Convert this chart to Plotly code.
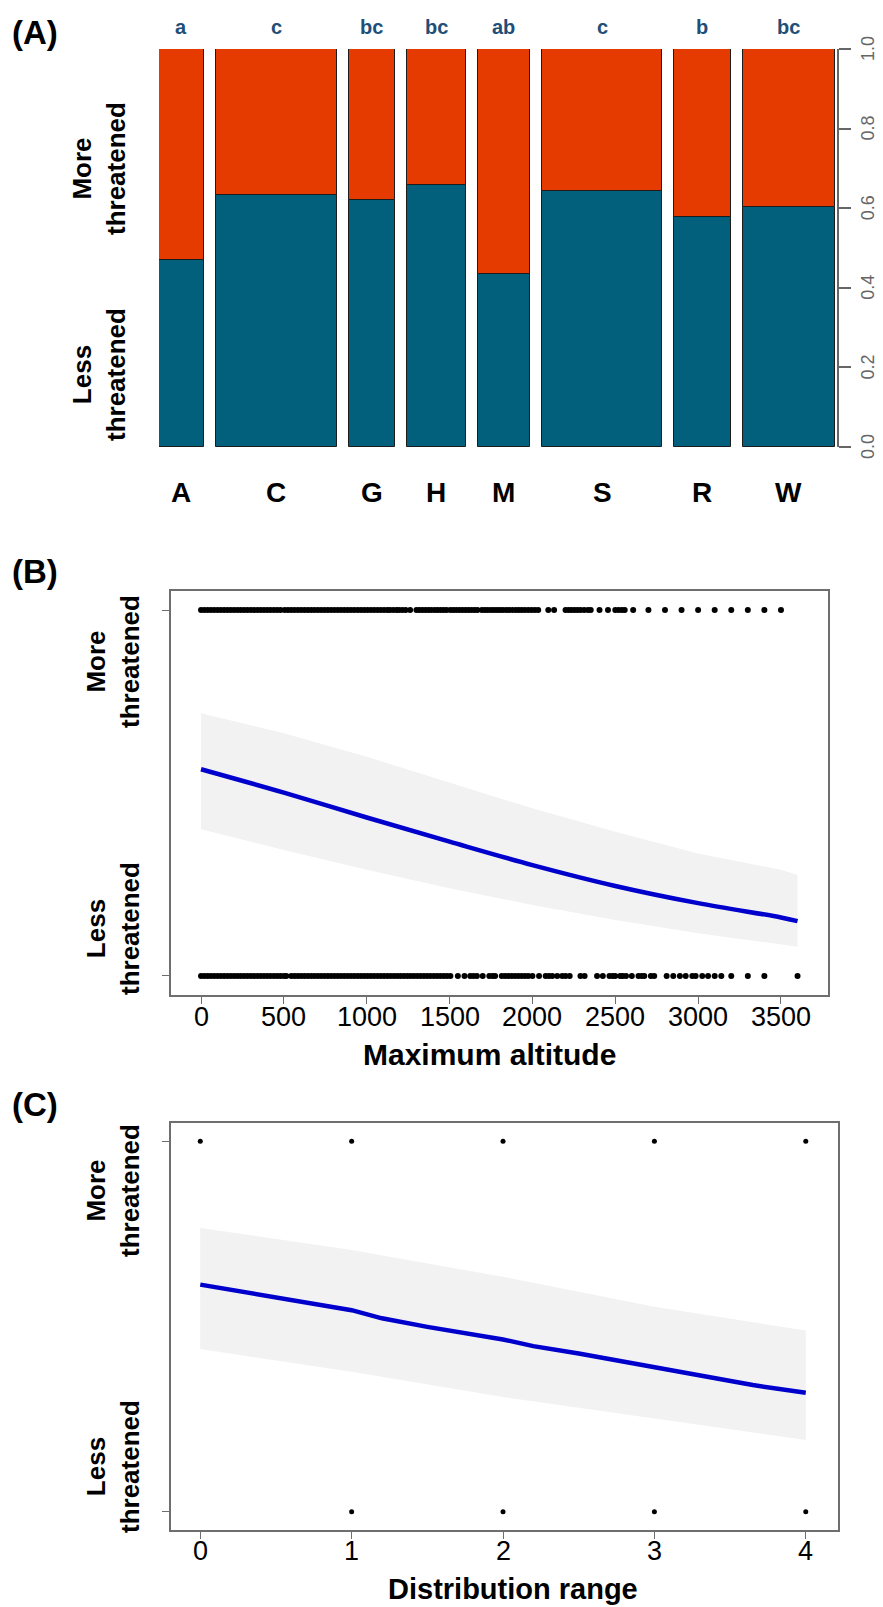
import plotly.graph_objects as go

W, H = 883, 1607

# ---------------- Panel A data ----------------
categories = ["A", "C", "G", "H", "M", "S", "R", "W"]
group_sizes = [45, 122, 47, 59, 53, 121, 57, 93]          # relative bar widths
less_threatened = [0.470, 0.633, 0.620, 0.659, 0.434, 0.644, 0.577, 0.604]
sig_letters = ["a", "c", "bc", "bc", "ab", "c", "b", "bc"]
a_ticks = [0.0, 0.2, 0.4, 0.6, 0.8, 1.0]
a_ticktext = ["0.0", "0.2", "0.4", "0.6", "0.8", "1.0"]

# ---------------- Panel B data ----------------
b_more_x = [0, 20, 40, 60, 80, 100, 120, 140, 160, 180, 200, 220, 240, 260, 280, 300, 320, 340, 360, 380,
            400, 420, 440, 460, 480, 505,
            525, 545, 565, 585, 605, 625, 645, 665, 685, 705, 725, 745, 765,
            785, 805, 825, 845, 865, 885, 905, 925, 945, 965, 985, 1005, 1025, 1045, 1065, 1085, 1105,
            1125, 1140, 1160, 1180, 1195, 1215, 1235, 1262,
            1300, 1318, 1336, 1354, 1372, 1390, 1410, 1428, 1446, 1464, 1482,
            1505, 1523, 1541, 1560, 1578, 1596, 1614, 1632, 1650, 1668,
            1695, 1713, 1731, 1750, 1768, 1786, 1804, 1822, 1842, 1860, 1880, 1900, 1918, 1936, 1955,
            1975, 1995, 2015, 2035,
            2096, 2131, 2200, 2218, 2236, 2254, 2272, 2290, 2312, 2335, 2352,
            2405, 2456, 2500, 2520, 2540, 2557, 2608,
            2700, 2800, 2900, 3000, 3100, 3200, 3300, 3400, 3500]
b_less_x = [0, 20, 40, 60, 80, 100, 120, 140, 160, 180, 200, 220, 240, 260, 280, 300, 320, 340, 360, 380,
            400, 420, 440, 460, 480, 500, 515,
            545, 565, 585, 605, 625, 645, 665, 685, 705, 725, 745, 765, 785, 805, 825, 845, 865, 885,
            905, 925, 945, 965, 985, 1005, 1025, 1045, 1065, 1085, 1105, 1125, 1145, 1165, 1185, 1205,
            1225, 1245, 1265, 1285, 1305, 1325, 1345, 1365, 1385, 1405, 1425, 1445, 1465, 1485, 1505,
            1550, 1590, 1625, 1645, 1665, 1700, 1740, 1760, 1775,
            1815, 1835, 1855, 1875, 1895, 1915, 1935, 1955, 1975, 2000,
            2040, 2080, 2100, 2120, 2150, 2180, 2200, 2225, 2290, 2315, 2390, 2425, 2465, 2485, 2500,
            2530, 2545, 2565, 2600, 2640, 2660, 2675, 2715, 2735, 2810, 2850, 2890, 2925, 2965, 2985,
            3025, 3060, 3100, 3140, 3200, 3300, 3400, 3600]
b_fit_x = [0, 500, 1000, 1500, 2000, 2500, 3000, 3500, 3600]
b_fit = [0.565, 0.501, 0.433, 0.367, 0.303, 0.246, 0.199, 0.160, 0.150]
b_upper = [0.718, 0.663, 0.599, 0.528, 0.458, 0.394, 0.335, 0.290, 0.276]
b_lower = [0.401, 0.344, 0.290, 0.240, 0.194, 0.153, 0.117, 0.087, 0.080]
b_ticks = [0, 500, 1000, 1500, 2000, 2500, 3000, 3500]

# ---------------- Panel C data ----------------
c_more_x = [0, 1, 2, 3, 4]
c_less_x = [1, 2, 3, 4]
c_fit_x = [0, 0.5, 1, 1.2, 1.5, 2, 2.2, 2.5, 3, 3.5, 3.65, 4]
c_fit = [0.613, 0.580, 0.544, 0.522, 0.499, 0.465, 0.447, 0.427, 0.391, 0.353, 0.342, 0.321]
c_band_x = [0, 1, 2, 3, 4]
c_upper = [0.766, 0.706, 0.634, 0.553, 0.489]
c_lower = [0.439, 0.378, 0.310, 0.252, 0.194]
c_ticks = [0, 1, 2, 3, 4]

# ---------------- styles ----------------
TEAL = "#03607C"
ORANGE = "#E53A00"
NAVY = "#1F4E79"
BLUE = "#0000CC"
BAND = "#F2F2F2"
BOX = "#6E6E6E"
SANS = "Liberation Sans, Arial, sans-serif"
GAP = 12


def px(x):
    return x / W


def py(y):
    return 1 - y / H


fig = go.Figure()

# ---- Panel A: spineplot ----
centers = []
pos = 0
for w in group_sizes:
    centers.append(pos + w / 2)
    pos += w + GAP
total = pos - GAP
more = [1 - v for v in less_threatened]

fig.add_trace(go.Bar(x=centers, y=less_threatened, width=group_sizes, base=[0] * len(centers),
                     marker=dict(color=TEAL, line=dict(color="#1c1c1c", width=1)),
                     xaxis="x", yaxis="y", showlegend=False))
fig.add_trace(go.Bar(x=centers, y=more, width=group_sizes, base=less_threatened,
                     marker=dict(color=ORANGE, line=dict(color="#1c1c1c", width=1)),
                     xaxis="x", yaxis="y", showlegend=False))

# ---- Panel B ----
fig.add_trace(go.Scatter(x=b_fit_x, y=b_lower, mode="lines", line=dict(width=0, color=BAND),
                         xaxis="x2", yaxis="y2", showlegend=False, hoverinfo="skip"))
fig.add_trace(go.Scatter(x=b_fit_x, y=b_upper, mode="lines", line=dict(width=0, color=BAND),
                         fill="tonexty", fillcolor=BAND,
                         xaxis="x2", yaxis="y2", showlegend=False, hoverinfo="skip"))
fig.add_trace(go.Scatter(x=b_more_x, y=[1] * len(b_more_x), mode="markers",
                         marker=dict(color="black", size=6), xaxis="x2", yaxis="y2", showlegend=False))
fig.add_trace(go.Scatter(x=b_less_x, y=[0] * len(b_less_x), mode="markers",
                         marker=dict(color="black", size=6), xaxis="x2", yaxis="y2", showlegend=False))
fig.add_trace(go.Scatter(x=b_fit_x, y=b_fit, mode="lines", line=dict(color=BLUE, width=4.5, shape="spline"),
                         xaxis="x2", yaxis="y2", showlegend=False))

# ---- Panel C ----
fig.add_trace(go.Scatter(x=c_band_x, y=c_lower, mode="lines", line=dict(width=0, color=BAND),
                         xaxis="x3", yaxis="y3", showlegend=False, hoverinfo="skip"))
fig.add_trace(go.Scatter(x=c_band_x, y=c_upper, mode="lines", line=dict(width=0, color=BAND),
                         fill="tonexty", fillcolor=BAND,
                         xaxis="x3", yaxis="y3", showlegend=False, hoverinfo="skip"))
fig.add_trace(go.Scatter(x=c_more_x, y=[1] * len(c_more_x), mode="markers",
                         marker=dict(color="black", size=5), xaxis="x3", yaxis="y3", showlegend=False))
fig.add_trace(go.Scatter(x=c_less_x, y=[0] * len(c_less_x), mode="markers",
                         marker=dict(color="black", size=5), xaxis="x3", yaxis="y3", showlegend=False))
fig.add_trace(go.Scatter(x=c_fit_x, y=c_fit, mode="lines", line=dict(color=BLUE, width=4.5),
                         xaxis="x3", yaxis="y3", showlegend=False))

ann = []
# Panel tags
for tag, yc in [("(A)", 32), ("(B)", 572), ("(C)", 1104)]:
    ann.append(dict(text="<b>" + tag + "</b>", x=px(10), y=py(yc), xref="paper", yref="paper",
                    xanchor="left", yanchor="middle", showarrow=False,
                    font=dict(family=SANS, size=33, color="black")))
# rotated y labels
for xc, yc, t in [(99, 169, "More<br>threatened"), (99, 375, "Less<br>threatened"),
                  (113, 662, "More<br>threatened"), (113, 929, "Less<br>threatened"),
                  (113, 1191, "More<br>threatened"), (113, 1467, "Less<br>threatened")]:
    ann.append(dict(text="<b>" + t + "</b>", x=px(xc), y=py(yc), xref="paper", yref="paper",
                    xanchor="center", yanchor="middle", textangle=-90, showarrow=False,
                    font=dict(family=SANS, size=26, color="black")))
# category labels & significance letters
for c, cat, sig in zip(centers, categories, sig_letters):
    ann.append(dict(text="<b>" + cat + "</b>", x=c, y=py(492), xref="x", yref="paper",
                    xanchor="center", yanchor="middle", showarrow=False,
                    font=dict(family=SANS, size=28, color="black")))
    ann.append(dict(text="<b>" + sig + "</b>", x=c, y=py(27), xref="x", yref="paper",
                    xanchor="center", yanchor="middle", showarrow=False,
                    font=dict(family=SANS, size=20, color=NAVY)))
# right axis tick labels of panel A (rotated, R style)
for v, t in zip(a_ticks, a_ticktext):
    ann.append(dict(text=t, x=px(868), y=v, xref="paper", yref="y", xanchor="center", yanchor="middle",
                    textangle=-90, showarrow=False, font=dict(family=SANS, size=18, color="#666")))
# x tick labels of panels B and C
for v in b_ticks:
    ann.append(dict(text=str(v), x=v, y=py(1017), xref="x2", yref="paper", xanchor="center",
                    yanchor="middle", showarrow=False, font=dict(family=SANS, size=27, color="black")))
for v in c_ticks:
    ann.append(dict(text=str(v), x=v, y=py(1551), xref="x3", yref="paper", xanchor="center",
                    yanchor="middle", showarrow=False, font=dict(family=SANS, size=27, color="black")))
# axis titles
ann.append(dict(text="<b>Maximum altitude</b>", x=px(489), y=py(1054), xref="paper", yref="paper",
                xanchor="center", yanchor="middle", showarrow=False,
                font=dict(family=SANS, size=30, color="black")))
ann.append(dict(text="<b>Distribution range</b>", x=px(513), y=py(1589), xref="paper", yref="paper",
                xanchor="center", yanchor="middle", showarrow=False,
                font=dict(family=SANS, size=29, color="black")))

box_axis = dict(showline=True, mirror=True, linecolor=BOX, linewidth=1.8, showgrid=False, zeroline=False,
                ticks="outside", ticklen=7, tickcolor=BOX, tickwidth=1.2, showticklabels=False,
                automargin=False)

fig.update_layout(
    width=W, height=H, margin=dict(l=0, r=0, t=0, b=0, autoexpand=False),
    paper_bgcolor="white", plot_bgcolor="white", barmode="overlay", bargap=0,
    annotations=ann,
    xaxis=dict(domain=[px(159), px(837)], range=[0, total + 2], showgrid=False, zeroline=False,
               showticklabels=False, showline=False, ticks="", anchor="y", automargin=False),
    yaxis=dict(domain=[py(447), py(49)], range=[0, 1], side="right", anchor="x", showgrid=False,
               zeroline=False, showline=True, linecolor="#666", linewidth=1.5,
               ticks="outside", ticklen=12, tickcolor="#666", tickwidth=1.5,
               tickvals=a_ticks, showticklabels=False, automargin=False),
    xaxis2=dict(domain=[px(170.6), px(827.7)], range=[-183.5, 3782], anchor="y2",
                tickvals=b_ticks, **box_axis),
    yaxis2=dict(domain=[py(995), py(591)], range=[-0.052, 1.052], anchor="x2",
                tickvals=[0, 1], **box_axis),
    xaxis3=dict(domain=[px(170.6), px(838)], range=[-0.196, 4.213], anchor="y3",
                tickvals=c_ticks, **box_axis),
    yaxis3=dict(domain=[py(1530), py(1122.6)], range=[-0.049, 1.05], anchor="x3",
                tickvals=[0, 1], **box_axis),
)

fig.write_html("out.html", config={"displayModeBar": False},
               post_script="document.body.style.margin='0px';document.body.style.overflow='hidden';")
